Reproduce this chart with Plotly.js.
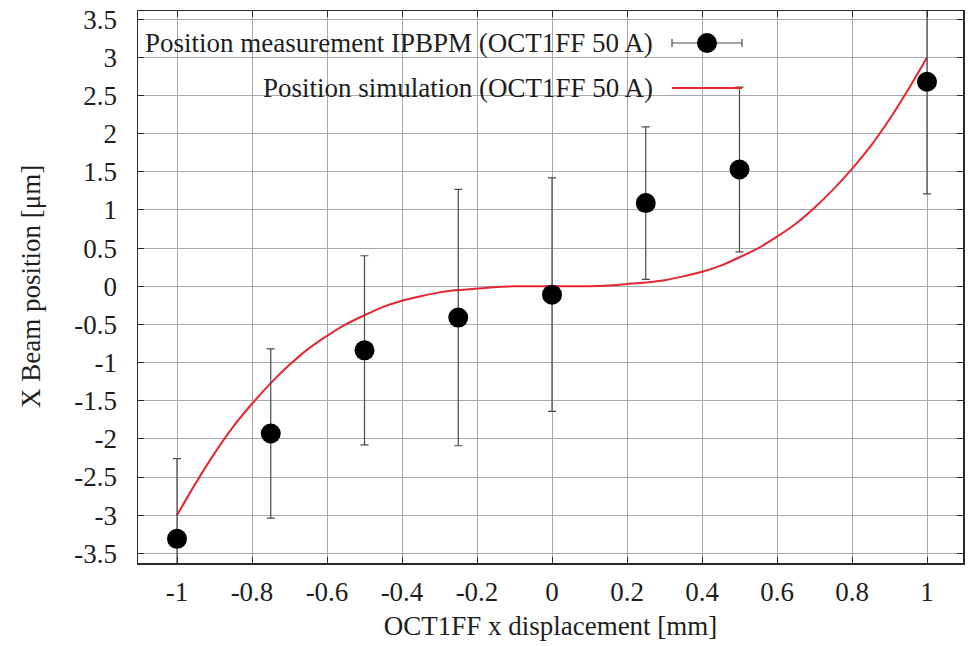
<!DOCTYPE html>
<html>
<head>
<meta charset="utf-8">
<script src="https://cdn.plot.ly/plotly-3.0.1.min.js"></script>
<style>
  html, body { margin: 0; padding: 0; background: #ffffff; }
  #chart { width: 968px; height: 646px; }
</style>
</head>
<body>
<div id="chart"></div>
<script>
// ---- Data ----
var measX = [-1, -0.75, -0.5, -0.25, 0, 0.25, 0.5, 1];
var measY = [-3.31, -1.93, -0.84, -0.41, -0.11, 1.09, 1.53, 2.68];
var measErr = [1.05, 1.11, 1.24, 1.68, 1.53, 1.0, 1.08, 1.47];

var simX = [-1, -0.95, -0.9, -0.85, -0.8, -0.75, -0.7, -0.65, -0.6, -0.55, -0.5,
            -0.45, -0.4, -0.35, -0.3, -0.25, -0.2, -0.15, -0.1, -0.05, 0,
            0.05, 0.1, 0.15, 0.2, 0.25, 0.3, 0.35, 0.4, 0.45, 0.5,
            0.55, 0.6, 0.65, 0.7, 0.75, 0.8, 0.85, 0.9, 0.95, 1];
var simY = [-3.0, -2.58, -2.19, -1.84, -1.54, -1.27, -1.03, -0.82, -0.65, -0.5, -0.38,
            -0.27, -0.19, -0.13, -0.08, -0.05, -0.03, -0.01, 0.0, 0.0, 0.0,
            0.0, 0.0, 0.01, 0.03, 0.05, 0.08, 0.13, 0.19, 0.27, 0.38,
            0.5, 0.65, 0.82, 1.03, 1.27, 1.54, 1.84, 2.19, 2.58, 3.0];

var xTickVals = [-1, -0.8, -0.6, -0.4, -0.2, 0, 0.2, 0.4, 0.6, 0.8, 1];
var xTickText = ['-1', '-0.8', '-0.6', '-0.4', '-0.2', '0', '0.2', '0.4', '0.6', '0.8', '1'];
var yTickVals = [-3.5, -3, -2.5, -2, -1.5, -1, -0.5, 0, 0.5, 1, 1.5, 2, 2.5, 3, 3.5];
var yTickText = ['-3.5', '-3', '-2.5', '-2', '-1.5', '-1', '-0.5', '0', '0.5', '1', '1.5', '2', '2.5', '3', '3.5'];

var measName = 'Position measurement IPBPM (OCT1FF 50 A)';
var simName = 'Position simulation (OCT1FF 50 A)';
var xTitle = 'OCT1FF x displacement [mm]';
var yTitle = 'X Beam position [μm]';

// ---- Styles ----
var SERIF = 'Liberation Serif, Times New Roman, serif';
var FS = 27;
var RED = '#e3262f';
var TXT = '#1e1e1e';

// plot area in pixels
var L = 138, R = 5, T = 11, B = 83, W = 968, H = 646;
var PW = W - L - R, PH = H - T - B;
function px(x) { return (x - L) / PW; }
function py(y) { return (H - B - y) / PH; }

var traces = [
  {
    x: simX, y: simY, type: 'scatter', mode: 'lines', name: simName,
    line: { color: RED, width: 2, shape: 'spline', smoothing: 0.6 }, showlegend: false, hoverinfo: 'skip'
  },
  {
    x: measX, y: measY, type: 'scatter', mode: 'markers', name: measName,
    marker: { color: '#000000', size: 20, line: { width: 0 } },
    error_y: { type: 'data', array: measErr, visible: true, color: '#4a4a4a', thickness: 1.2, width: 4 },
    showlegend: false, hoverinfo: 'skip'
  }
];

var axisCommon = {
  showline: true, linecolor: '#2a2a2a', linewidth: 1.5, mirror: 'ticks',
  ticks: 'inside', ticklen: 6, tickcolor: '#2a2a2a', tickwidth: 1,
  showgrid: true, gridcolor: '#a9a9a9', gridwidth: 1, zeroline: false,
  tickfont: { family: SERIF, size: FS, color: TXT }
};

var layout = {
  width: W, height: H,
  margin: { l: L, r: R, t: T, b: B, pad: 0 },
  paper_bgcolor: '#ffffff', plot_bgcolor: '#ffffff',
  font: { family: SERIF, size: FS, color: TXT },
  showlegend: false,
  xaxis: Object.assign({}, axisCommon, {
    range: [-1.104, 1.096], tickmode: 'array', tickvals: xTickVals, ticktext: xTickText,
    ticklabelstandoff: 4,
    title: { text: xTitle, font: { family: SERIF, size: FS, color: TXT }, standoff: 10 }
  }),
  yaxis: Object.assign({}, axisCommon, {
    range: [-3.627, 3.608], tickmode: 'array', tickvals: yTickVals, ticktext: yTickText,
    ticklabelstandoff: 14
  }),
  shapes: [
    // opaque key box (hides grid behind the key)
    { type: 'rect', xref: 'paper', yref: 'paper', layer: 'between',
      x0: px(250), x1: px(752), y0: py(116), y1: py(21),
      fillcolor: '#ffffff', line: { width: 0 } },
    // key sample 1: errorbar line with caps and dot
    { type: 'line', xref: 'paper', yref: 'paper', x0: px(672), x1: px(742), y0: py(43), y1: py(43),
      line: { color: '#4a4a4a', width: 1.2 } },
    { type: 'line', xref: 'paper', yref: 'paper', x0: px(672), x1: px(672), y0: py(39), y1: py(47),
      line: { color: '#4a4a4a', width: 1.2 } },
    { type: 'line', xref: 'paper', yref: 'paper', x0: px(742), x1: px(742), y0: py(39), y1: py(47),
      line: { color: '#4a4a4a', width: 1.2 } },
    { type: 'circle', xref: 'paper', yref: 'paper', xsizemode: 'pixel', ysizemode: 'pixel',
      xanchor: px(707), yanchor: py(43), x0: -10, x1: 10, y0: -10, y1: 10,
      fillcolor: '#000000', line: { width: 0 } },
    // key sample 2: red line
    { type: 'line', xref: 'paper', yref: 'paper', x0: px(672), x1: px(742), y0: py(88), y1: py(88),
      line: { color: RED, width: 2 } }
  ],
  annotations: [
    { text: measName, xref: 'paper', yref: 'paper', x: px(655), y: py(43),
      xanchor: 'right', yanchor: 'middle', showarrow: false,
      font: { family: SERIF, size: FS, color: TXT } },
    { text: simName, xref: 'paper', yref: 'paper', x: px(655), y: py(88),
      xanchor: 'right', yanchor: 'middle', showarrow: false,
      font: { family: SERIF, size: FS, color: TXT } },
    { text: yTitle, xref: 'paper', yref: 'paper', x: px(31), y: 0.5,
      xanchor: 'center', yanchor: 'middle', textangle: -90, showarrow: false,
      font: { family: SERIF, size: FS, color: TXT } }
  ]
};

Plotly.newPlot('chart', traces, layout, { staticPlot: true, displayModeBar: false });
</script>
</body>
</html>
